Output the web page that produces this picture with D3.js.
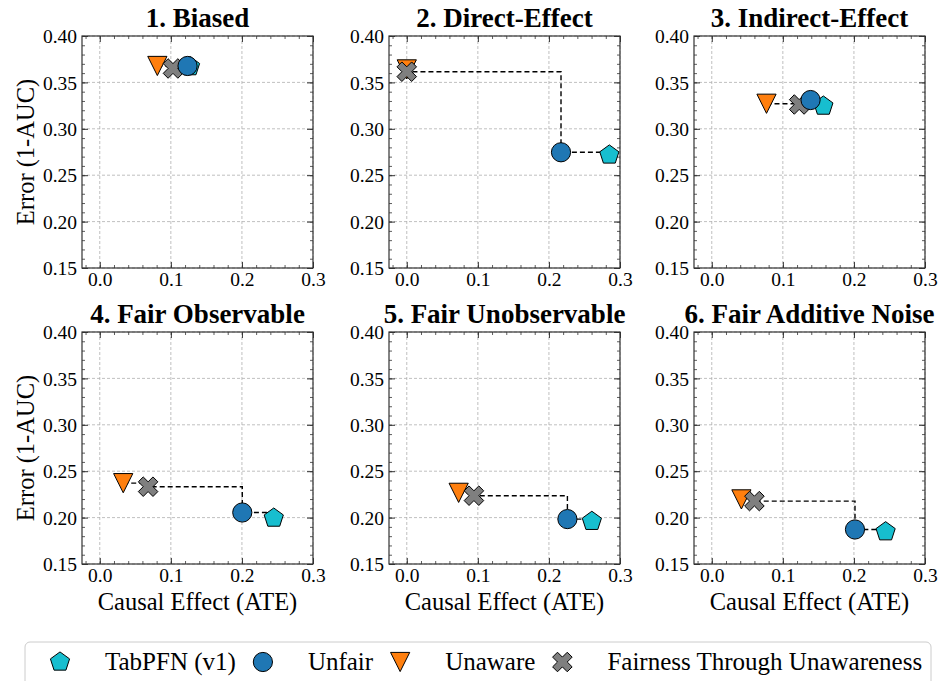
<!DOCTYPE html>
<html><head><meta charset="utf-8">
<script src="https://cdn.jsdelivr.net/npm/d3@7"></script>
<style>
body{margin:0;background:#fff}
svg text{font-family:"Liberation Serif","Times New Roman","DejaVu Serif",serif;}
</style>
</head><body><svg id="chart" width="940" height="681"></svg>
<script>
// ---------------- data ----------------
const panelTitles = ["1. Biased","2. Direct-Effect","3. Indirect-Effect","4. Fair Observable","5. Fair Unobservable","6. Fair Additive Noise"];
const methods = ["TabPFN (v1)","Unfair","Unaware","Fairness Through Unawareness"];
const methodColors = ["#17becf","#1f77b4","#ff7f0e","#7f7f7f"];
const methodShapes = ["pentagon","circle","triangleDown","xcross"];
const tabpfnATE  = [0.127, 0.285, 0.157, 0.2448, 0.2604, 0.2446];
const tabpfnErr  = [0.367, 0.2718, 0.3245, 0.1995, 0.196, 0.1848];
const unfairATE  = [0.1235, 0.217, 0.139, 0.2005, 0.226, 0.2015];
const unfairErr  = [0.3677, 0.2747, 0.331, 0.2055, 0.1984, 0.1872];
const unawareATE = [0.081, 0.0, 0.077, 0.033, 0.073, 0.0417];
const unawareErr = [0.3677, 0.364, 0.327, 0.2371, 0.2267, 0.2196];
const ftuATE     = [0.103, 0.0, 0.123, 0.068, 0.0945, 0.060];
const ftuErr     = [0.365, 0.3615, 0.3262, 0.2333, 0.2236, 0.2178];
const xTicks = [0.0, 0.1, 0.2, 0.3];
const xTickLabels = ["0.0","0.1","0.2","0.3"];
const yTicks = [0.15, 0.20, 0.25, 0.30, 0.35, 0.40];
const yTickLabels = ["0.15","0.20","0.25","0.30","0.35","0.40"];
const xLabel = "Causal Effect (ATE)";
const yLabel = "Error (1-AUC)";

// ---------------- layout ----------------
const colLeft = [82, 389, 694];
const rowTop = [36, 332];
const W = 231, H = 232;
const xDomain = [-0.025, 0.3], yDomain = [0.15, 0.40];
const xMinor = d3.range(-0.02, 0.301, 0.02);
const yMinor = d3.range(0.15, 0.4001, 0.01);

const svg = d3.select("#chart");
svg.append("rect").attr("width",940).attr("height",681).attr("fill","#fff");

// custom symbols (size = radius^2)
const symbols = {
  circle: {draw(c, s){ const r=Math.sqrt(s); c.moveTo(r,0); c.arc(0,0,r,0,2*Math.PI); }},
  pentagon: {draw(c, s){ const r=Math.sqrt(s)*1.05; for(let i=0;i<5;i++){ const a=-Math.PI/2+i*2*Math.PI/5; const px=r*Math.cos(a), py=r*Math.sin(a); if(i===0) c.moveTo(px,py); else c.lineTo(px,py);} c.closePath(); }},
  triangleDown: {draw(c, s){ const r=Math.sqrt(s); c.moveTo(0,r); c.lineTo(-r,-r); c.lineTo(r,-r); c.closePath(); }},
  xcross: {draw(c, s){ const r=Math.sqrt(s); const L=r*1.08, w=r*0.36;
    const pts=[[-w,-L],[w,-L],[w,-w],[L,-w],[L,w],[w,w],[w,L],[-w,L],[-w,w],[-L,w],[-L,-w],[-w,-w]];
    const ca=Math.cos(Math.PI/4), sa=Math.sin(Math.PI/4);
    pts.forEach((p,i)=>{ const px=p[0]*ca-p[1]*sa, py=p[0]*sa+p[1]*ca; if(i===0) c.moveTo(px,py); else c.lineTo(px,py); });
    c.closePath(); }}
};
const markerSize = 9.6*9.6;
const symGen = d3.symbol().size(markerSize);

const seriesATE = [tabpfnATE, unfairATE, unawareATE, ftuATE];
const seriesErr = [tabpfnErr, unfairErr, unawareErr, ftuErr];
const drawOrder = [0, 2, 3, 1]; // pentagon, triangle, X, circle on top

panelTitles.forEach((title, p) => {
  const row = Math.floor(p/3), col = p%3;
  const g = svg.append("g").attr("transform", `translate(${colLeft[col]},${rowTop[row]})`);
  const x = d3.scaleLinear().domain(xDomain).range([0, W]);
  const y = d3.scaleLinear().domain(yDomain).range([H, 0]);

  // grid
  g.append("g").selectAll("line").data(xTicks).join("line")
    .attr("x1", d=>x(d)).attr("x2", d=>x(d)).attr("y1",0).attr("y2",H)
    .attr("stroke","#b0b0b0").attr("stroke-width",0.8).attr("stroke-dasharray","3,2");
  g.append("g").selectAll("line").data(yTicks).join("line")
    .attr("y1", d=>y(d)).attr("y2", d=>y(d)).attr("x1",0).attr("x2",W)
    .attr("stroke","#b0b0b0").attr("stroke-width",0.8).attr("stroke-dasharray","3,2");

  const styleAxis = sel => { sel.attr("font-family",null); sel.select(".domain").remove(); sel.selectAll(".tick line").attr("stroke","#333").attr("stroke-width",1); };
  const axB = g.append("g").attr("transform",`translate(0,${H})`)
    .call(d3.axisBottom(x).tickValues(xTicks).tickFormat((d,i)=>xTickLabels[i]).tickSize(-6).tickPadding(4));
  const axL = g.append("g")
    .call(d3.axisLeft(y).tickValues(yTicks).tickFormat((d,i)=>yTickLabels[i]).tickSize(-6).tickPadding(5));
  [axB, axL].forEach(a => { styleAxis(a); a.attr("font-size",null); a.selectAll("text").style("font-size","19.5px").attr("fill","#000"); });
  axL.selectAll(".tick text").attr("dy","0.34em");
  const axT = g.append("g").call(d3.axisTop(x).tickValues(xTicks).tickFormat("").tickSize(-6));
  const axR = g.append("g").attr("transform",`translate(${W},0)`).call(d3.axisRight(y).tickValues(yTicks).tickFormat("").tickSize(-6));
  [axT, axR].forEach(styleAxis);
  const mB = g.append("g").attr("transform",`translate(0,${H})`).call(d3.axisBottom(x).tickValues(xMinor).tickFormat("").tickSize(-3));
  const mT = g.append("g").call(d3.axisTop(x).tickValues(xMinor).tickFormat("").tickSize(-3));
  const mL = g.append("g").call(d3.axisLeft(y).tickValues(yMinor).tickFormat("").tickSize(-3));
  const mR = g.append("g").attr("transform",`translate(${W},0)`).call(d3.axisRight(y).tickValues(yMinor).tickFormat("").tickSize(-3));
  [mB, mT, mL, mR].forEach(a => { styleAxis(a); a.selectAll(".tick line").attr("stroke-width",0.8); });

  g.append("rect").attr("width",W).attr("height",H).attr("fill","none").attr("stroke","#333").attr("stroke-width",1.2);

  // Pareto front (step)
  const pts = methods.map((m,i)=>({ate: seriesATE[i][p], err: seriesErr[i][p]}))
    .sort((a,b)=> a.ate - b.ate || b.err - a.err);
  const front = []; let best = Infinity;
  pts.forEach(pt => { if (pt.err < best) { front.push(pt); best = pt.err; } });
  g.append("path").datum(front)
    .attr("d", d3.line().x(d=>x(d.ate)).y(d=>y(d.err)).curve(d3.curveStepAfter))
    .attr("fill","none").attr("stroke","#000").attr("stroke-width",1.4).attr("stroke-dasharray","5,3");

  drawOrder.forEach(i => {
    g.append("path")
      .attr("d", symGen.type(symbols[methodShapes[i]])())
      .attr("transform", `translate(${x(seriesATE[i][p])},${y(seriesErr[i][p])})`)
      .attr("fill", methodColors[i]).attr("stroke","#000").attr("stroke-width",1);
  });

  g.append("text").attr("x", W/2).attr("y", -9).attr("text-anchor","middle")
    .style("font-weight","bold").style("font-size","27px").text(title);

  if (col === 0) {
    g.append("text").attr("transform",`translate(${34-colLeft[col]},${H/2}) rotate(-90)`)
      .attr("text-anchor","middle").style("font-size","24.5px").text(yLabel);
  }
  if (row === 1) {
    g.append("text").attr("x", W/2).attr("y", H+46).attr("text-anchor","middle")
      .style("font-size","24.5px").text(xLabel);
  }
});

// ---------------- legend ----------------
const lg = svg.append("g");
lg.append("rect").attr("x",25).attr("y",642).attr("width",906).attr("height",60).attr("rx",5)
  .attr("fill","#fff").attr("stroke","#cccccc").attr("stroke-width",1);
let cx = 60;
methods.forEach((m, i) => {
  lg.append("path").attr("d", symGen.type(symbols[methodShapes[i]])())
    .attr("transform",`translate(${cx},662)`)
    .attr("fill", methodColors[i]).attr("stroke","#000").attr("stroke-width",1);
  const t = lg.append("text").attr("x", cx+45).attr("y", 670)
    .style("font-size","25px").text(m);
  const w = t.node().getComputedTextLength();
  cx = cx + 45 + w + 27;
});
</script></body></html>
